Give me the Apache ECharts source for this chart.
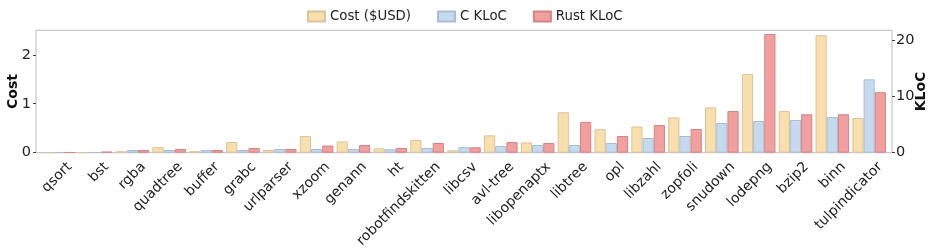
<!DOCTYPE html>
<html>
<head>
<meta charset="utf-8">
<script src="https://cdn.jsdelivr.net/npm/echarts@6/dist/echarts.min.js"></script>
<style>
  html, body { margin: 0; padding: 0; background: #fff; }
  #chart { width: 936px; height: 248px; }
</style>
</head>
<body>
<div id="chart"></div>
<script>
const categories = ['qsort','bst','rgba','quadtree','buffer','grabc','urlparser','xzoom','genann','ht','robotfindskitten','libcsv','avl-tree','libopenaptx','libtree','opl','libzahl','zopfoli','snudown','lodepng','bzip2','binn','tulpindicator'];
const costUSD = [0.005,0.005,0.03,0.115,0.03,0.22,0.055,0.34,0.23,0.09,0.26,0.05,0.355,0.21,0.825,0.48,0.535,0.72,0.925,1.605,0.85,2.40,0.71];
const cKLoC = [0.08,0.08,0.48,0.48,0.48,0.48,0.66,0.66,0.66,0.62,0.84,1.0,1.2,1.37,1.37,1.73,2.62,2.98,5.3,5.66,5.84,6.38,13.1];
const rustKLoC = [0.08,0.2,0.48,0.66,0.48,0.84,0.66,1.28,1.37,0.84,1.73,0.97,1.9,1.72,5.5,2.97,4.93,4.23,7.45,21.2,6.86,6.86,10.8];
const costTicks = [0, 1, 2];
const klocTicks = [0, 10, 20];
const costMax = 2.5;
const klocMax = 21.86;

const FONT = 'DejaVu Sans';
const chart = echarts.init(document.getElementById('chart'), null, {renderer: 'canvas'});

const gridTop = 30.3, gridBottom = 95.3;
const nameStyle = { fontFamily: FONT, fontWeight: 'bold', fontSize: 14, color: '#111' };
const option = {
  animation: false,
  backgroundColor: '#ffffff',
  textStyle: { fontFamily: FONT },
  legend: {
    top: 10, left: 307, padding: 0,
    itemWidth: 17, itemHeight: 10, itemGap: 26,
    icon: 'rect',
    textStyle: { fontFamily: FONT, fontSize: 13.3, color: '#222' },
    data: ['Cost ($USD)', 'C KLoC', 'Rust KLoC']
  },
  grid: [
    { left: 40.3, right: 48.4, top: gridTop, bottom: gridBottom, outerBoundsMode: 'none', containLabel: false },
    { left: 51.3, right: 37.4, top: gridTop, bottom: gridBottom, outerBoundsMode: 'none', containLabel: false },
    { left: 36, right: 44, top: gridTop, bottom: gridBottom, outerBoundsMode: 'none', containLabel: false,
      show: true, borderColor: '#bcbcbc', borderWidth: 1, backgroundColor: 'transparent' }
  ],
  xAxis: [
    { type: 'category', gridIndex: 0, data: categories, show: false },
    { type: 'category', gridIndex: 1, data: categories, axisLine: {show: false}, axisTick: {show: false},
      axisLabel: { interval: 0, rotate: 45, margin: 12, fontFamily: FONT, fontSize: 14, color: '#222' } },
    { type: 'category', gridIndex: 2, data: categories, show: false }
  ],
  yAxis: [
    { type: 'value', gridIndex: 0, min: 0, max: costMax, show: false },
    { type: 'value', gridIndex: 0, min: 0, max: klocMax, show: false },
    { type: 'value', gridIndex: 1, show: false },
    { type: 'value', gridIndex: 2, position: 'left', min: 0, max: costMax,
      name: 'Cost', nameLocation: 'middle', nameRotate: 90, nameGap: 16, nameMoveOverlap: false, nameTextStyle: nameStyle,
      axisLine: {show: false}, splitLine: {show: false},
      axisTick: { show: true, inside: false, length: 3, customValues: costTicks, lineStyle: {color: '#444'} },
      axisLabel: { customValues: costTicks, margin: 5, fontFamily: FONT, fontSize: 14.5, color: '#222' } },
    { type: 'value', gridIndex: 2, position: 'right', min: 0, max: klocMax,
      name: 'KLoC', nameLocation: 'middle', nameRotate: 90, nameGap: 22.5, nameMoveOverlap: false, nameTextStyle: nameStyle,
      axisLine: {show: false}, splitLine: {show: false},
      axisTick: { show: true, inside: false, length: 3, customValues: klocTicks, lineStyle: {color: '#444'} },
      axisLabel: { customValues: klocTicks, margin: 4, fontFamily: FONT, fontSize: 14.5, color: '#222' } }
  ],
  series: [
    { name: 'Cost ($USD)', type: 'bar', xAxisIndex: 0, yAxisIndex: 0, data: costUSD,
      barWidth: 11.2, barGap: '0%',
      itemStyle: { color: '#f8dfab', borderColor: '#d8c39b', borderWidth: 1 } },
    { name: 'C KLoC', type: 'bar', xAxisIndex: 0, yAxisIndex: 1, data: cKLoC,
      barWidth: 11.2, barGap: '0%',
      itemStyle: { color: '#c6daef', borderColor: '#a9bed6', borderWidth: 1 } },
    { name: 'Rust KLoC', type: 'bar', xAxisIndex: 0, yAxisIndex: 1, data: rustKLoC,
      barWidth: 11.2, barGap: '0%',
      itemStyle: { color: '#f19f9f', borderColor: '#d28585', borderWidth: 1 } }
  ]
};
chart.setOption(option);
</script>
</body>
</html>
